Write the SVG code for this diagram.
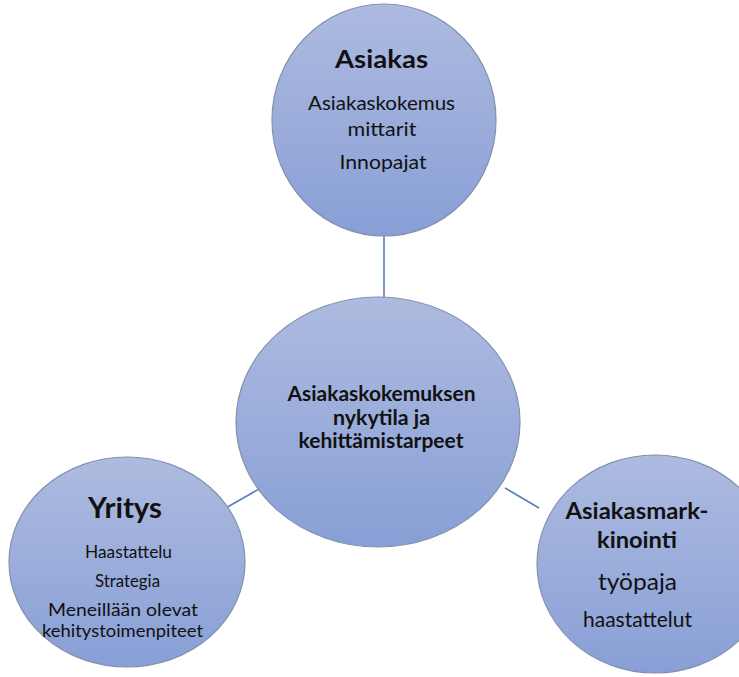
<svg xmlns="http://www.w3.org/2000/svg" width="739" height="677" viewBox="0 0 739 677">
<defs>
<linearGradient id="g" x1="0" y1="0" x2="0" y2="1">
<stop offset="0" stop-color="#aebbe0"/>
<stop offset="1" stop-color="#889fd6"/>
</linearGradient>
<style>
.c{fill:url(#g);stroke:#8391ad;stroke-width:1.2}
.t{font-family:Lato,"Open Sans","Liberation Sans",sans-serif;fill:#111;text-anchor:middle}
.b{font-weight:bold}
.ln{stroke:#5b7cbf;stroke-width:1.6;fill:none}
</style>
</defs>
<rect width="739" height="677" fill="#fff"/>
<g id="connectors">
<line class="ln" x1="384" y1="235" x2="384" y2="298"/>
<line class="ln" x1="224" y1="509" x2="259" y2="489"/>
<line class="ln" x1="505" y1="488" x2="539" y2="508"/>
</g>
<g id="asiakas">
<ellipse class="c" cx="384" cy="120" rx="112" ry="116"/>
<text class="t b" x="381.5" y="68" font-size="25.5" textLength="93" lengthAdjust="spacingAndGlyphs">Asiakas</text>
<text class="t" x="381.5" y="110" font-size="19" textLength="147" lengthAdjust="spacingAndGlyphs">Asiakaskokemus</text>
<text class="t" x="382" y="136" font-size="19" textLength="69" lengthAdjust="spacingAndGlyphs">mittarit</text>
<text class="t" x="383" y="169" font-size="19" textLength="87" lengthAdjust="spacingAndGlyphs">Innopajat</text>
</g>
<g id="center">
<ellipse class="c" cx="378" cy="422" rx="142" ry="125"/>
<text class="t b" x="381.5" y="401" font-size="20" textLength="188" lengthAdjust="spacingAndGlyphs">Asiakaskokemuksen</text>
<text class="t b" x="381.5" y="425" font-size="20" textLength="97" lengthAdjust="spacingAndGlyphs">nykytila ja</text>
<text class="t b" x="381" y="448" font-size="20" textLength="165" lengthAdjust="spacingAndGlyphs">kehittämistarpeet</text>
</g>
<g id="yritys">
<ellipse class="c" cx="127" cy="562" rx="118" ry="105"/>
<text class="t b" x="125" y="518" font-size="29" textLength="74" lengthAdjust="spacingAndGlyphs">Yritys</text>
<text class="t" x="128.5" y="558" font-size="17" textLength="87" lengthAdjust="spacingAndGlyphs">Haastattelu</text>
<text class="t" x="127.5" y="587" font-size="17" textLength="65" lengthAdjust="spacingAndGlyphs">Strategia</text>
<text class="t" x="123" y="616" font-size="17" textLength="150" lengthAdjust="spacingAndGlyphs">Meneillään olevat</text>
<text class="t" x="122.5" y="637" font-size="17" textLength="161" lengthAdjust="spacingAndGlyphs">kehitystoimenpiteet</text>
</g>
<g id="markkinointi">
<ellipse class="c" cx="655" cy="564" rx="118" ry="109"/>
<text class="t b" x="637" y="519" font-size="22.5" textLength="143" lengthAdjust="spacingAndGlyphs">Asiakasmark-</text>
<text class="t b" x="637" y="548" font-size="22.5" textLength="80" lengthAdjust="spacingAndGlyphs">kinointi</text>
<text class="t" x="637.5" y="590" font-size="24" textLength="79" lengthAdjust="spacingAndGlyphs">työpaja</text>
<text class="t" x="637.5" y="627" font-size="20.5" textLength="109" lengthAdjust="spacingAndGlyphs">haastattelut</text>
</g>
</svg>
